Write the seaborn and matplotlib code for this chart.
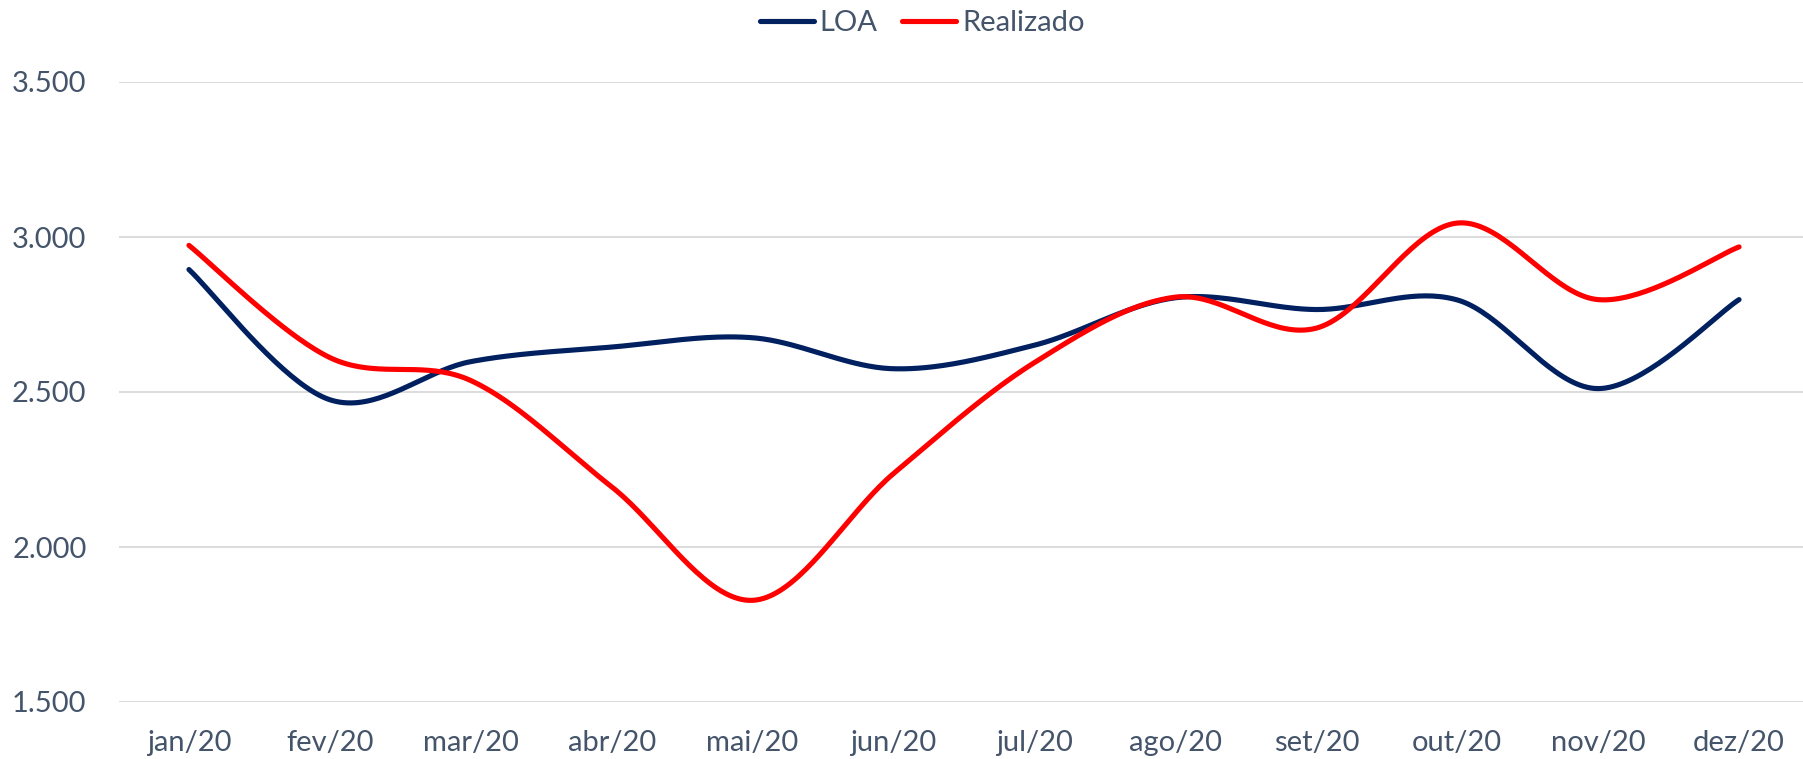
import numpy as np
import pandas as pd
import matplotlib
matplotlib.use("Agg")
import matplotlib.pyplot as plt
import seaborn as sns
from matplotlib.lines import Line2D

# ---- data ----
months = ["jan/20", "fev/20", "mar/20", "abr/20", "mai/20", "jun/20",
          "jul/20", "ago/20", "set/20", "out/20", "nov/20", "dez/20"]
loa = [2895, 2475, 2598, 2645, 2675, 2575, 2651, 2804, 2766, 2797, 2511, 2798]
realizado = [2973, 2611, 2537, 2194, 1828, 2237, 2595, 2806, 2706, 3045, 2798, 2968]
y_ticks = [1500, 2000, 2500, 3000, 3500]
y_tick_labels = ["1.500", "2.000", "2.500", "3.000", "3.500"]

sns.set_theme(style="white")
plt.rcParams["font.family"] = ["Lato", "DejaVu Sans"]

TEXT = "#44546A"
C_LOA = "#002060"
C_REAL = "#FF0000"


def smooth(xs, ys, n=40):
    """Excel-like smoothed line (Catmull-Rom Bezier through the points)."""
    P = np.column_stack([xs, ys]).astype(float)
    out = []
    m = len(P)
    for i in range(m - 1):
        p0 = P[i - 1] if i > 0 else P[i]
        p1 = P[i]
        p2 = P[i + 1]
        p3 = P[i + 2] if i + 2 < m else P[i + 1]
        c1 = p1 + (p2 - p0) / 6.0
        c2 = p2 - (p3 - p1) / 6.0
        t = np.linspace(0, 1, n, endpoint=(i == m - 2))[:, None]
        seg = ((1 - t) ** 3) * p1 + 3 * ((1 - t) ** 2) * t * c1 + 3 * (1 - t) * t ** 2 * c2 + t ** 3 * p2
        out.append(seg)
    return np.vstack(out)


x = np.arange(len(months))
frames = []
for name, vals in [("LOA", loa), ("Realizado", realizado)]:
    s = smooth(x, vals)
    frames.append(pd.DataFrame({"x": s[:, 0], "y": s[:, 1], "serie": name,
                                "order": np.arange(len(s))}))
df = pd.concat(frames, ignore_index=True)

fig = plt.figure(figsize=(18.03, 7.59), dpi=100)
ax = fig.add_axes([118.5 / 1803, 57 / 759, 1691 / 1803, 620 / 759])

sns.lineplot(data=df, x="x", y="y", hue="serie", units="serie", estimator=None,
             sort=False, palette={"LOA": C_LOA, "Realizado": C_REAL},
             linewidth=3.7, ax=ax, legend=False, zorder=3)
for line in ax.get_lines():
    line.set_solid_capstyle("round")

ax.set_xlim(-0.5, 11.5)
ax.set_ylim(1500, 3500)
ax.set_yticks(y_ticks)
ax.set_yticklabels(y_tick_labels)
ax.set_xticks(x)
ax.set_xticklabels(months)
ax.set_xlabel("")
ax.set_ylabel("")
ax.yaxis.grid(True, color="#D9D9D9", linewidth=1.3, zorder=0)
ax.xaxis.grid(False)
for sp in ax.spines.values():
    sp.set_visible(False)
ax.tick_params(axis="y", length=0, pad=23, labelsize=21, labelcolor=TEXT)
ax.tick_params(axis="x", length=0, pad=20, labelsize=21, labelcolor=TEXT)

handles = [Line2D([0], [0], color=C_LOA, lw=3.7, solid_capstyle="round"),
           Line2D([0], [0], color=C_REAL, lw=3.7, solid_capstyle="round")]
leg = fig.legend(handles, ["LOA", "Realizado"], loc="center",
                 bbox_to_anchor=(922 / 1803, 1 - 23 / 759),
                 ncol=2, frameon=False, fontsize=21, handlelength=1.85,
                 handletextpad=0.2, columnspacing=0.85, borderaxespad=0)
for t in leg.get_texts():
    t.set_color(TEXT)

fig.savefig("out.png", dpi=100)
